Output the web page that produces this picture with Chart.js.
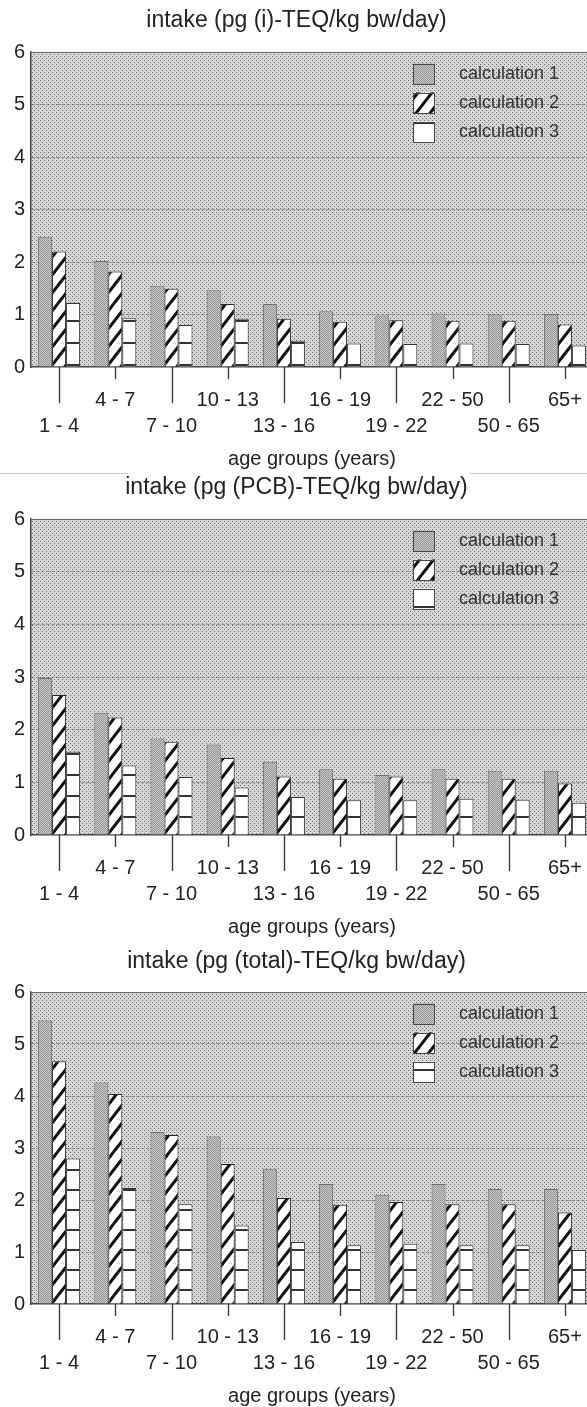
<!DOCTYPE html>
<html><head><meta charset="utf-8">
<script src="https://cdn.jsdelivr.net/npm/chart.js@4.4.1/dist/chart.umd.min.js"></script>
<style>
html,body{margin:0;padding:0;background:#fff;overflow:hidden;}
#wrap{position:relative;width:587px;height:1407px;overflow:hidden;background:#fff;}
#wrap canvas{position:absolute;left:0;}
.sep{position:absolute;height:1px;background:#c3ccd9;top:473px;}
</style></head><body>
<div id="wrap">
<div class="sep" style="left:0;width:128px"></div>
<div class="sep" style="left:470px;width:117px"></div>
<canvas id="c1" width="593" height="473" style="top:0;width:593px;height:473px"></canvas>
<canvas id="c2" width="593" height="472" style="top:469px;width:593px;height:472px"></canvas>
<canvas id="c3" width="593" height="472" style="top:938px;width:593px;height:472px"></canvas>
</div>
<script>
// ---- data ----
const ageGroups = ['1 - 4','4 - 7','7 - 10','10 - 13','13 - 16','16 - 19','19 - 22','22 - 50','50 - 65','65+'];
const seriesNames = ['calculation 1','calculation 2','calculation 3'];
const yTicks = [0,1,2,3,4,5,6];
const xAxisTitle = 'age groups (years)';
const panelTitles = ['intake (pg (i)-TEQ/kg bw/day)','intake (pg (PCB)-TEQ/kg bw/day)','intake (pg (total)-TEQ/kg bw/day)'];

const iTeqCalc1 = [2.48, 2.02, 1.55, 1.46, 1.20, 1.06, 0.98, 1.02, 1.00, 1.01];
const iTeqCalc2 = [2.20, 1.82, 1.49, 1.20, 0.92, 0.86, 0.89, 0.88, 0.88, 0.81];
const iTeqCalc3 = [1.22, 0.93, 0.80, 0.92, 0.50, 0.45, 0.44, 0.45, 0.44, 0.41];

const pcbTeqCalc1 = [2.98, 2.32, 1.83, 1.72, 1.39, 1.25, 1.14, 1.25, 1.22, 1.22];
const pcbTeqCalc2 = [2.66, 2.23, 1.77, 1.46, 1.11, 1.07, 1.11, 1.07, 1.07, 0.98];
const pcbTeqCalc3 = [1.58, 1.32, 1.10, 0.90, 0.72, 0.66, 0.66, 0.69, 0.67, 0.61];

const totalTeqCalc1 = [5.45, 4.26, 3.31, 3.22, 2.60, 2.31, 2.10, 2.31, 2.21, 2.21];
const totalTeqCalc2 = [4.67, 4.04, 3.25, 2.69, 2.04, 1.91, 1.96, 1.92, 1.92, 1.76];
const totalTeqCalc3 = [2.80, 2.23, 1.92, 1.51, 1.19, 1.13, 1.16, 1.13, 1.13, 1.04];

// ---- styling ----
const FONT = '"Liberation Sans", Arial, Helvetica, sans-serif';

function tile(w, h, draw){ const c=document.createElement('canvas'); c.width=w; c.height=h; draw(c.getContext('2d'), w, h); return c; }
const bgTile = tile(4,4,(x)=>{ x.fillStyle='#d6d6d6'; x.fillRect(0,0,4,4); x.fillStyle='#6c6c6c'; x.fillRect(0,0,1,1); x.fillRect(2,2,1,1); });
const c1Tile = tile(2,2,(x)=>{ x.fillStyle='#cbcbcb'; x.fillRect(0,0,2,2); x.fillStyle='#939393'; x.fillRect(0,0,1,1); x.fillRect(1,1,1,1); });
const c2Tile = tile(14,18,(x,w,h)=>{ x.fillStyle='#fff'; x.fillRect(0,0,w,h); x.strokeStyle='#111'; x.lineWidth=3;
  for(let k=-1;k<=1;k++){ x.beginPath(); x.moveTo(-2, h + 2*h/w + k*h); x.lineTo(w+2, -2*h/w + k*h); x.stroke(); } });
function c3TileOf(h){ return tile(4,h,(x)=>{ x.fillStyle='#fff'; x.fillRect(0,0,4,h); x.fillStyle='#333'; x.fillRect(0,0,4,2); }); }

const panels = [
  {id:'c1', title:panelTitles[0], data:[iTeqCalc1,iTeqCalc2,iTeqCalc3], tpad:{top:7,bottom:17.4}, hPeriod:22, hBase:0.04},
  {id:'c2', title:panelTitles[1], data:[pcbTeqCalc1,pcbTeqCalc2,pcbTeqCalc3], tpad:{top:5,bottom:17.4}, hPeriod:21, hBase:0.34},
  {id:'c3', title:panelTitles[2], data:[totalTeqCalc1,totalTeqCalc2,totalTeqCalc3], tpad:{top:10,bottom:16.4}, hPeriod:20, hBase:0.27}
];

const decor = {
  id:'decor',
  beforeDraw(chart){
    const {ctx, chartArea:a} = chart;
    ctx.save();
    ctx.fillStyle = chart.$bg;
    ctx.fillRect(a.left, a.top, a.right-a.left, a.bottom-a.top);
    ctx.restore();
  },
  beforeDatasetsDraw(chart){
    const y0 = chart.scales.y.getPixelForValue(chart.$hBase);
    chart.$c3.setTransform(new DOMMatrix().translate(0, Math.round(y0) - 1));
  },
  afterDraw(chart){
    const {ctx, chartArea:a} = chart;
    ctx.save();
    ctx.strokeStyle='#666'; ctx.lineWidth=1.2;
    ctx.beginPath(); ctx.moveTo(a.left, a.top+0.5); ctx.lineTo(a.right, a.top+0.5); ctx.stroke();
    const xs = chart.scales.x;
    ctx.strokeStyle='#333'; ctx.lineWidth=1.3;
    xs.ticks.forEach((t,i)=>{
      const x = Math.round(xs.getPixelForTick(i))+0.5;
      const len = i%2===0 ? 36 : 12;
      ctx.beginPath(); ctx.moveTo(x, xs.top); ctx.lineTo(x, xs.top+len); ctx.stroke();
    });
    chart.data.datasets.forEach((ds,i)=>{
      const cy = a.top + 22 + i*29;
      const bx = a.left + 382, bw = 22, bh = 21;
      ctx.fillStyle = ds.backgroundColor; ctx.fillRect(bx, cy-bh/2, bw, bh);
      ctx.strokeStyle = '#444'; ctx.lineWidth=1; ctx.strokeRect(bx+0.5, Math.round(cy-bh/2)+0.5, bw-1, bh-1);
      ctx.fillStyle='#333'; ctx.font='18px '+FONT; ctx.textBaseline='middle'; ctx.textAlign='left';
      ctx.fillText(ds.label, a.left+428, cy);
    });
    ctx.restore();
  }
};

panels.forEach(p=>{
  const canvas = document.getElementById(p.id);
  const cx = canvas.getContext('2d');
  const bgPat = cx.createPattern(bgTile,'repeat');
  const c1Pat = cx.createPattern(c1Tile,'repeat');
  const c2Pat = cx.createPattern(c2Tile,'repeat');
  const c3Pat = cx.createPattern(c3TileOf(p.hPeriod),'repeat');
  const fills = [c1Pat, c2Pat, c3Pat];
  const borders = ['#6e6e6e', '#222', '#333'];
  new Chart(canvas, {
    type:'bar',
    data:{
      labels: ageGroups,
      datasets: seriesNames.map((n,i)=>({
        label:n, data:p.data[i], backgroundColor:fills[i], borderColor:borders[i], borderWidth:1,
        categoryPercentage:0.747, barPercentage:1.0
      }))
    },
    options:{
      responsive:false, animation:false, devicePixelRatio:1, events:[],
      layout:{padding:0},
      plugins:{
        legend:{display:false}, tooltip:{enabled:false},
        title:{display:true, text:p.title, color:'#222', font:{family:FONT,size:23,weight:'normal',lineHeight:1.2}, padding:p.tpad}
      },
      scales:{
        x:{
          type:'category', offset:true,
          grid:{display:true, drawOnChartArea:false, drawTicks:true, tickLength:12, color:'transparent'},
          border:{display:true, color:'#444', width:1.5},
          ticks:{autoSkip:false, maxRotation:0, minRotation:0, padding:8, color:'#222',
            font:{family:FONT,size:20,lineHeight:1.3},
            callback:(v,i)=> i%2===0 ? ['', ageGroups[i]] : [ageGroups[i], '']},
          title:{display:true, text:xAxisTitle, color:'#222', font:{family:FONT,size:20,lineHeight:1.2}, padding:{top:0,bottom:2}}
        },
        y:{
          min:yTicks[0], max:yTicks[yTicks.length-1],
          ticks:{stepSize:1, padding:6, color:'#222', font:{family:FONT,size:20}},
          grid:{drawTicks:false, lineWidth:1,
            color:(c)=> (c.tick && (c.tick.value===yTicks[0] || c.tick.value===yTicks[yTicks.length-1])) ? 'transparent' : 'rgba(60,60,60,0.5)'},
          border:{display:true, color:'#444', width:1.5, dash:[3,2]},
          afterFit:(s)=>{ s.width = 31; }
        }
      }
    },
    plugins:[{
      id:'setup',
      beforeInit(ch){ ch.$bg = bgPat; ch.$c3 = c3Pat; ch.$hBase = p.hBase; }
    }, decor]
  });
});
</script>
</body></html>
